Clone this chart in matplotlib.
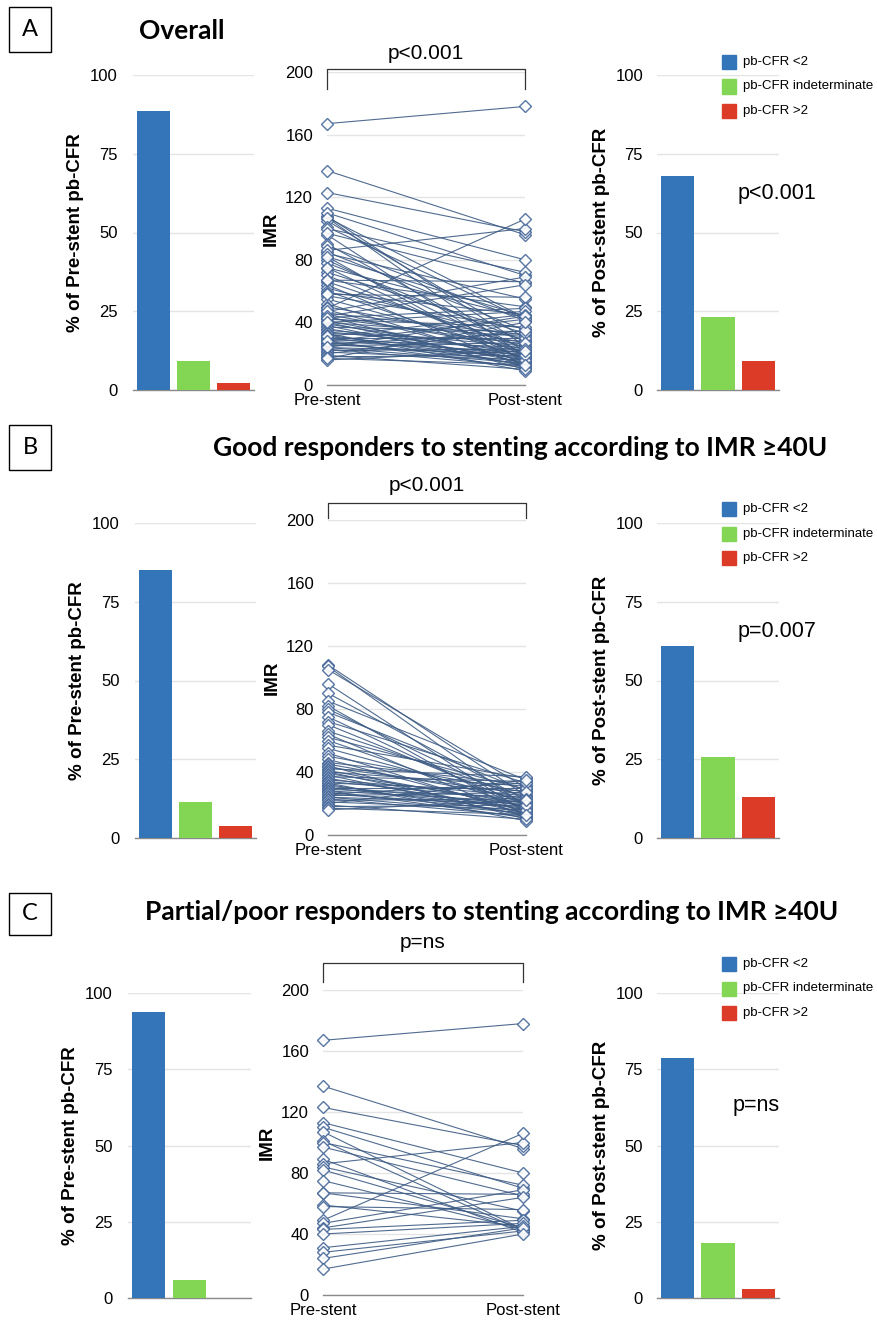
import numpy as np
import matplotlib
matplotlib.use("Agg")
import matplotlib.pyplot as plt
from matplotlib.patches import Rectangle

plt.rcParams['font.family'] = ['Liberation Sans', 'DejaVu Sans']

W, H = 877, 1320

# pb-CFR categories and colours
categories = ['pb-CFR <2', 'pb-CFR indeterminate', 'pb-CFR >2']
bar_colors = ['#3474b8', '#82d654', '#dc3b27']

# % of patients per pb-CFR category, pre and post stent
pre_overall = [88.5, 9.2, 2.3]
post_overall = [68.0, 23.2, 9.2]
pre_good = [85.0, 11.3, 3.8]
post_good = [61.0, 25.7, 13.0]
pre_poor = [93.8, 6.0, 0.0]
post_poor = [78.7, 18.0, 3.0]

# IMR per patient, good responders
imr_pre_good = [108, 107, 105, 96, 90, 85, 82, 80, 78, 75,
                72, 70, 66, 64, 62, 60, 57, 55, 52, 50,
                48, 46, 45, 44, 43, 42, 41, 40, 40, 39,
                38, 37, 36, 35, 34, 33, 33, 32, 31, 30,
                30, 29, 28, 28, 27, 26, 26, 25, 24, 24,
                23, 22, 21, 20, 19, 18, 17, 16]
imr_post_good = [25, 18, 30, 14, 22, 35, 12, 20, 28, 16,
                 33, 19, 24, 11, 29, 17, 36, 21, 13, 27,
                 15, 32, 23, 10, 26, 37, 18, 14, 31, 20,
                 12, 34, 16, 25, 22, 9, 28, 13, 19, 30,
                 17, 24, 11, 21, 15, 33, 18, 27, 14, 20,
                 12, 23, 16, 35, 10, 19, 13, 22]

# IMR per patient, partial/poor responders
imr_pre_poor = [167, 137, 123, 113, 110, 107, 101, 100, 97, 89,
                86, 84, 82, 75, 67, 67, 59, 58, 49, 47,
                44, 43, 40, 31, 28, 24, 17]
imr_post_poor = [178, 96, 98, 80, 70, 43, 42, 72, 65, 41,
                 100, 55, 44, 43, 66, 50, 45, 56, 106, 69,
                 64, 49, 47, 45, 42, 44, 40]

# all patients
imr_pre_all = imr_pre_good + imr_pre_poor
imr_post_all = imr_post_good + imr_post_poor

time_labels = ['Pre-stent', 'Post-stent']
bar_ticks = [0, 25, 50, 75, 100]
imr_ticks = [0, 40, 80, 120, 160, 200]

rows = [
    dict(letter='A', title='Overall', p_mid='p<0.001', p_right='p<0.001',
         pre=pre_overall, post=post_overall, imr=(imr_pre_all, imr_post_all)),
    dict(letter='B', title='Good responders to stenting according to IMR \u226540U',
         p_mid='p<0.001', p_right='p=0.007',
         pre=pre_good, post=post_good, imr=(imr_pre_good, imr_post_good)),
    dict(letter='C', title='Partial/poor responders to stenting according to IMR \u226540U',
         p_mid='p=ns', p_right='p=ns',
         pre=pre_poor, post=post_poor, imr=(imr_pre_poor, imr_post_poor)),
]

# pixel layout of each row
layout = [
    dict(box=(9, 7, 51, 52), title_xy=(182, 31),
         left=(133, 75, 254, 390), mid=(327, 72, 525, 385), right=(657, 75, 779, 390),
         bracket=(202, 189), p_mid_y=212, p_right_xy=(738, 193), legend_y=62),
    dict(box=(9, 425, 51, 470), title_xy=(520, 448),
         left=(135, 523, 256, 838), mid=(328, 520, 526, 835), right=(657, 523, 779, 838),
         bracket=(211, 201), p_mid_y=222, p_right_xy=(738, 632), legend_y=509),
    dict(box=(9, 893, 51, 935), title_xy=(492, 912),
         left=(128, 993, 251, 1298), mid=(323, 990, 523, 1295), right=(657, 993, 779, 1298),
         bracket=(218, 205), p_mid_y=231, p_right_xy=(733, 1106), legend_y=964),
]

fig = plt.figure(figsize=(W / 100, H / 100), dpi=100)


def px_axes(x0, y0, x1, y1):
    return fig.add_axes([x0 / W, 1 - y1 / H, (x1 - x0) / W, (y1 - y0) / H])


def style_axes(ax):
    for s in ['top', 'right', 'left']:
        ax.spines[s].set_visible(False)
    ax.spines['bottom'].set_color('#8a8a8a')
    ax.spines['bottom'].set_linewidth(1.0)
    ax.tick_params(length=0, labelsize=12, colors='black')
    ax.grid(axis='y', color='#e4e4e4', linewidth=1.0)
    ax.set_axisbelow(True)


def bar_panel(ax, values, ylabel, pad):
    style_axes(ax)
    ax.bar(range(3), values, width=0.82, color=bar_colors, zorder=3)
    ax.set_xlim(-0.5, 2.5)
    ax.set_ylim(0, 100)
    ax.set_yticks(bar_ticks)
    ax.set_xticks([])
    ax.tick_params(axis='y', pad=pad)
    ax.set_ylabel(ylabel, fontsize=13.5, fontweight='bold', labelpad=4)


def imr_panel(ax, pre, post):
    style_axes(ax)
    for a, b in zip(pre, post):
        ax.plot([0, 1], [a, b], color='#3d5b84', linewidth=0.8, alpha=0.9,
                marker='D', markersize=6, markerfacecolor='white',
                markeredgecolor='#45679a', markeredgewidth=1.0, clip_on=False, zorder=3)
    ax.set_xlim(0, 1)
    ax.set_ylim(0, 200)
    ax.set_yticks(imr_ticks)
    ax.set_xticks([0, 1])
    ax.set_xticklabels(time_labels)
    ax.tick_params(axis='y', pad=10)
    ax.tick_params(axis='x', pad=6)
    ax.set_ylabel('IMR', fontsize=13.5, fontweight='bold', labelpad=4)


for row, lay in zip(rows, layout):
    # panel letter in a box
    x0, y0, x1, y1 = lay['box']
    fig.patches.append(Rectangle((x0 / W, 1 - y1 / H), (x1 - x0) / W, (y1 - y0) / H,
                                 transform=fig.transFigure, fill=False,
                                 edgecolor='black', linewidth=1.0))
    fig.text((x0 + x1) / 2 / W, 1 - (y0 + y1) / 2 / H, row['letter'],
             ha='center', va='center', fontsize=17, family=['Lato', 'DejaVu Sans'])
    tx, ty = lay['title_xy']
    fig.text(tx / W, 1 - ty / H, row['title'], ha='center', va='center',
             fontsize=19, fontweight='bold', family=['Lato', 'DejaVu Sans'])

    ax_l = px_axes(*lay['left'])
    bar_panel(ax_l, row['pre'], '% of Pre-stent pb-CFR', pad=11)

    ax_m = px_axes(*lay['mid'])
    imr_panel(ax_m, *row['imr'])
    top, end = lay['bracket']
    ax_m.plot([0, 0, 1, 1], [end, top, top, end], color='#333333',
              linewidth=0.9, clip_on=False)
    ax_m.text(0.5, lay['p_mid_y'], row['p_mid'], ha='center', va='center',
              fontsize=15, clip_on=False)

    ax_r = px_axes(*lay['right'])
    bar_panel(ax_r, row['post'], '% of Post-stent pb-CFR', pad=10)
    px, py = lay['p_right_xy']
    fig.text(px / W, 1 - py / H, row['p_right'], ha='left', va='center', fontsize=15.5)

    # legend
    ly = lay['legend_y']
    for i, (lab, col) in enumerate(zip(categories, bar_colors)):
        yy = ly + i * 24.5
        fig.patches.append(Rectangle((722 / W, 1 - (yy + 7) / H), 14 / W, 14 / H,
                                     transform=fig.transFigure, color=col))
        fig.text(743 / W, 1 - yy / H, lab, ha='left', va='center', fontsize=9.5)

fig.savefig('out.png', dpi=100)
